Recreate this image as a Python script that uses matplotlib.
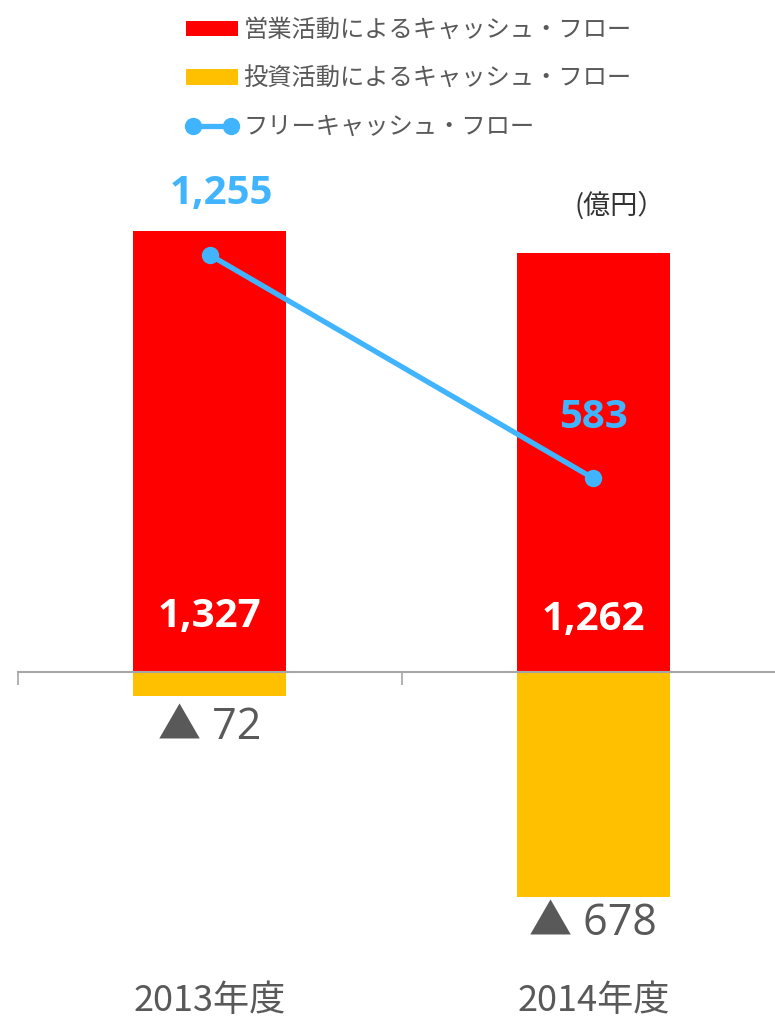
import matplotlib
matplotlib.use("Agg")
import matplotlib.pyplot as plt
from matplotlib.lines import Line2D
from matplotlib.patches import Patch
from matplotlib.transforms import blended_transform_factory

plt.rcParams['font.family'] = ['Noto Sans CJK JP', 'DejaVu Sans']

# 連結キャッシュ・フロー（億円）
years = ['2013年度', '2014年度']
operating = [1327, 1262]
investing = [-72, -678]
free_cf = [1255, 583]

RED = '#FF0000'
ORANGE = '#FFC000'
BLUE = '#41B4FF'
GRAY_TEXT = '#595959'

W, H = 775, 1017
fig = plt.figure(figsize=(W / 100, H / 100), dpi=100)

# axes placed in pixels: zero line at y=672, one category = 383.5 px
ylo, yhi = -900, 1400
ppu = 0.3323
top_px = 672 - yhi * ppu
bot_px = 672 - ylo * ppu
ax = fig.add_axes([18 / W, (H - bot_px) / H, (W - 18) / W, (bot_px - top_px) / H])

x = list(range(len(years)))
ax.bar(x, operating, width=0.4, color=RED, zorder=1)
ax.bar(x, investing, width=0.4, color=ORANGE, zorder=1)
ax.plot(x, free_cf, color=BLUE, lw=3.8, marker='o', ms=11.5, zorder=3)

for s in ['top', 'right', 'left']:
    ax.spines[s].set_visible(False)
ax.spines['bottom'].set_position(('data', 0))
ax.spines['bottom'].set_color('#A6A6A6')
ax.spines['bottom'].set_linewidth(1.5)
ax.spines['bottom'].set_zorder(2.5)
ax.set_yticks([])
ax.set_xticks([-0.5, 0.5, 1.5])
ax.set_xticklabels([])
ax.tick_params(axis='x', direction='out', length=9.5, width=1.2, color='#A6A6A6')
# limits after the ticks, otherwise set_xticks widens them
ax.set_xlim(-0.5, -0.5 + (W - 18) / 383.5)
ax.set_ylim(ylo, yhi)

num_font = ['Open Sans', 'Noto Sans CJK JP', 'DejaVu Sans']

# 営業CFの値（棒の根元付近）
for xi, v, dy in zip(x, operating, [40, 38]):
    ax.annotate(f'{v:,}', (xi, 0), xytext=(0, dy), textcoords='offset points',
                ha='center', va='center', color='white', fontsize=29,
                fontweight='bold', family=num_font)

# 投資CFの値（棒の下）
for xi, v, dy in zip(x, investing, [-23, -19]):
    ax.annotate(f'▲ {abs(v)}', (xi, v), xytext=(0, dy), textcoords='offset points',
                ha='center', va='center', color=GRAY_TEXT, fontsize=31,
                family=num_font)

# フリーCFの値
for xi, v, dx in zip(x, free_cf, [8, 0]):
    ax.annotate(f'{v:,}', (xi, v), xytext=(dx, 44), textcoords='offset points',
                ha='center', va='center', color=BLUE, fontsize=29,
                fontweight='bold', family=num_font)

# 年度ラベル
trans = blended_transform_factory(ax.transData, fig.transFigure)
for xi, label in zip(x, years):
    ax.text(xi, 1 - 1001 / H, label, transform=trans, ha='center', va='center',
            fontsize=26, color=GRAY_TEXT)

fig.text(620 / W, 1 - 205 / H, '(億円）', ha='center', va='center',
         fontsize=19.5, color='#333333')

handles = [
    Patch(facecolor=RED, edgecolor='none'),
    Patch(facecolor=ORANGE, edgecolor='none'),
    Line2D([], [], color=BLUE, lw=3.8, marker='o', ms=11.5),
]
labels = ['営業活動によるキャッシュ・フロー', '投資活動によるキャッシュ・フロー', 'フリーキャッシュ・フロー']
fig.legend(handles, labels, loc='upper left', bbox_to_anchor=(186 / W, 1 - 17 / H),
           frameon=False, fontsize=17.5, labelcolor=GRAY_TEXT, handlelength=2.15,
           handleheight=0.6, handletextpad=0.22, labelspacing=0.92, borderpad=0,
           borderaxespad=0, numpoints=2)

fig.savefig('out.png', dpi=100)
